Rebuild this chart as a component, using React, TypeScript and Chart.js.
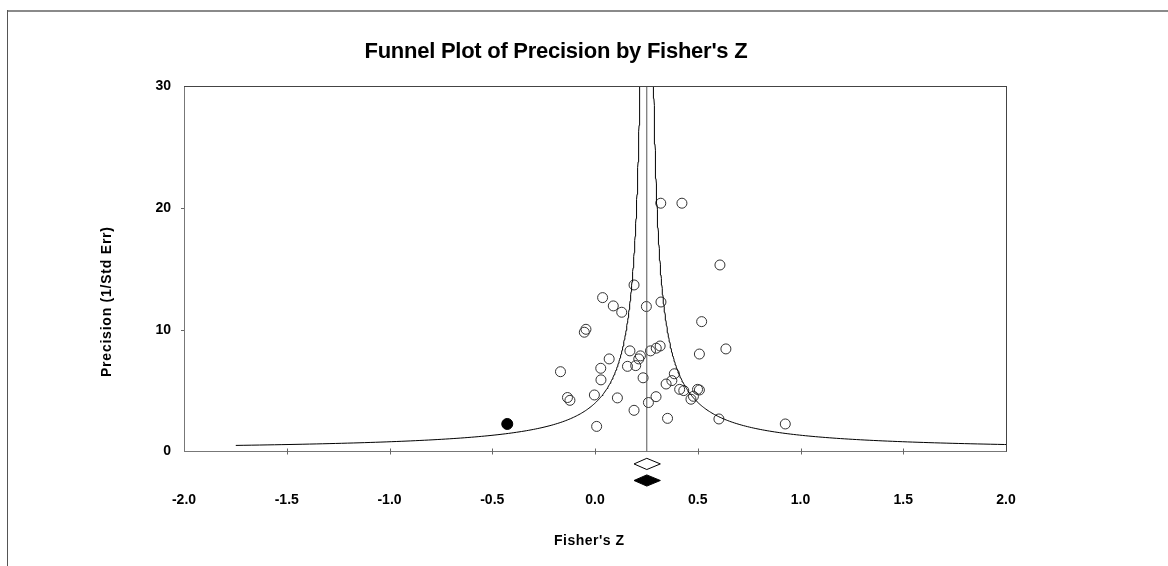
import React, { useEffect, useRef } from "react";
import { Chart, registerables } from "chart.js";

Chart.register(...registerables);

const titleText = "Funnel Plot of Precision by Fisher's Z";
const xAxisTitle = "Fisher's Z";
const yAxisTitle = "Precision (1/Std Err)";

const xMin = -2;
const xMax = 2;
const xStep = 0.5;
const yMin = 0;
const yMax = 30;
const yStep = 10;

// Observed studies (Fisher's Z, precision)
const studyZ = [
  0.19, 0.037, 0.089, 0.13, 0.25, 0.321, 0.519, -0.044, -0.052, 0.637,
  0.508, 0.17, 0.221, 0.27, 0.298, 0.317, 0.213, 0.069, 0.028, 0.158,
  0.198, -0.168, 0.029, 0.234, 0.386, 0.374, 0.346, 0.412, 0.432, 0.499,
  0.508, 0.479, 0.467, -0.134, -0.122, -0.003, 0.109, 0.297, 0.26, 0.19,
  0.353, 0.603, 0.926, 0.008, 0.32, 0.423, 0.608,
];
const studyPrecision = [
  13.67, 12.63, 11.95, 11.43, 11.9, 12.27, 10.66, 10.03, 9.79, 8.42,
  8.0, 8.26, 7.85, 8.26, 8.48, 8.66, 7.6, 7.6, 6.83, 6.99,
  7.05, 6.55, 5.88, 6.05, 6.38, 5.82, 5.54, 5.1, 5.0, 5.1,
  5.05, 4.53, 4.29, 4.43, 4.2, 4.64, 4.4, 4.5, 4.02, 3.38,
  2.72, 2.67, 2.26, 2.06, 20.38, 20.38, 15.31,
];

// Imputed study (filled)
const imputedZ = [-0.427];
const imputedPrecision = [2.26];

// Pooled estimate and funnel
const pooledZ = 0.252;
const funnelHalfWidthTimesPrecision = 1.0;
const funnelMinPrecision = 0.5;
const funnelMaxPrecision = 40;

// Summary diamonds: [lower, point, upper]; rows drawn below the axis
const diamondLower = [0.19, 0.19];
const diamondPoint = [0.252, 0.252];
const diamondUpper = [0.318, 0.318];
const diamondRow = [-1.02, -2.38];
const diamondHalfHeight = 0.46;
const diamondFilled = [false, true];

function funnelSide(sign: number) {
  const pts: { x: number; y: number }[] = [];
  let p = funnelMinPrecision;
  while (p <= funnelMaxPrecision) {
    pts.push({ x: pooledZ + (sign * funnelHalfWidthTimesPrecision) / p, y: p });
    p *= 1.02;
  }
  return pts;
}

function drawFitted(ctx: CanvasRenderingContext2D, text: string, x: number, y: number, target: number) {
  const anyCtx = ctx as any;
  anyCtx.letterSpacing = "0px";
  const w = ctx.measureText(text).width;
  const n = text.length;
  if ("letterSpacing" in anyCtx && n > 1) {
    const sp = (target - w) / (n - 1);
    anyCtx.letterSpacing = sp.toFixed(2) + "px";
    ctx.textAlign = "left";
    ctx.fillText(text, x - target / 2, y);
    anyCtx.letterSpacing = "0px";
  } else {
    ctx.save();
    ctx.translate(x, y);
    ctx.scale(target / w, 1);
    ctx.textAlign = "center";
    ctx.fillText(text, 0, 0);
    ctx.restore();
  }
}

const decorPlugin = {
  id: "decor",
  beforeDraw(chart: any) {
    const ctx = chart.ctx as CanvasRenderingContext2D;
    ctx.save();
    ctx.fillStyle = "#ffffff";
    ctx.fillRect(0, 0, chart.width, chart.height);
    ctx.restore();
  },
  afterDraw(chart: any) {
    const ctx = chart.ctx as CanvasRenderingContext2D;
    const area = chart.chartArea;
    const xs = chart.scales.x;
    const ys = chart.scales.y;
    ctx.save();
    // outer frame
    ctx.fillStyle = "#8a8a8a";
    ctx.fillRect(7, 10, chart.width - 7, 2);
    ctx.fillStyle = "#555555";
    ctx.fillRect(7, 10, 1, chart.height - 10);

    // top and right borders of plot
    ctx.strokeStyle = "#444444";
    ctx.lineWidth = 1;
    ctx.beginPath();
    ctx.moveTo(area.left, Math.round(area.top) + 0.5);
    ctx.lineTo(area.right, Math.round(area.top) + 0.5);
    ctx.moveTo(Math.round(area.right) + 0.5, area.top);
    ctx.lineTo(Math.round(area.right) + 0.5, area.bottom);
    ctx.stroke();

    // tick marks
    ctx.strokeStyle = "#666666";
    ctx.beginPath();
    for (let v = xMin + xStep; v < xMax - 1e-9; v += xStep) {
      const px = Math.round(xs.getPixelForValue(v)) + 0.5;
      ctx.moveTo(px, area.bottom - 3);
      ctx.lineTo(px, area.bottom + 3);
    }
    for (let v = yMin + yStep; v < yMax - 1e-9; v += yStep) {
      const py = Math.round(ys.getPixelForValue(v)) + 0.5;
      ctx.moveTo(area.left - 3, py);
      ctx.lineTo(area.left, py);
    }
    ctx.stroke();

    // summary diamonds (positioned through the chart scales)
    for (let i = 0; i < diamondPoint.length; i++) {
      const xl = xs.getPixelForValue(diamondLower[i]);
      const xc = xs.getPixelForValue(diamondPoint[i]);
      const xu = xs.getPixelForValue(diamondUpper[i]);
      const yc = ys.getPixelForValue(diamondRow[i]);
      const yt = ys.getPixelForValue(diamondRow[i] + diamondHalfHeight);
      const yb = ys.getPixelForValue(diamondRow[i] - diamondHalfHeight);
      ctx.beginPath();
      ctx.moveTo(xl, yc);
      ctx.lineTo(xc, yt);
      ctx.lineTo(xu, yc);
      ctx.lineTo(xc, yb);
      ctx.closePath();
      if (diamondFilled[i]) {
        ctx.fillStyle = "#000000";
        ctx.fill();
      }
      ctx.strokeStyle = "#000000";
      ctx.lineWidth = 1;
      ctx.stroke();
    }

    // texts
    ctx.fillStyle = "#000000";
    ctx.textBaseline = "middle";
    ctx.font = "bold 22px 'Liberation Sans', Arial, sans-serif";
    drawFitted(ctx, titleText, 556, 52, 383);

    ctx.font = "bold 14px 'Liberation Sans', Arial, sans-serif";
    drawFitted(ctx, xAxisTitle, 589, 541, 70);

    ctx.save();
    ctx.translate(107, 302);
    ctx.rotate(-Math.PI / 2);
    drawFitted(ctx, yAxisTitle, 0, 0, 150);
    ctx.restore();

    ctx.restore();
  },
};

export default function App() {
  const ref = useRef<HTMLCanvasElement | null>(null);

  useEffect(() => {
    document.body.style.margin = "0";
    const canvas = ref.current;
    if (!canvas) return;

    const studies = studyZ.map((z, i) => ({ x: z, y: studyPrecision[i] }));
    const imputed = imputedZ.map((z, i) => ({ x: z, y: imputedPrecision[i] }));

    const tickFont = { family: "'Liberation Sans', Arial, sans-serif", size: 14, weight: "bold" as const };

    const chart = new Chart(canvas, {
      type: "scatter",
      data: {
        datasets: [
          {
            type: "line",
            data: funnelSide(-1),
            borderColor: "#000000",
            borderWidth: 1,
            pointRadius: 0,
            fill: false,
            tension: 0,
            showLine: true,
          } as any,
          {
            type: "line",
            data: funnelSide(1),
            borderColor: "#000000",
            borderWidth: 1,
            pointRadius: 0,
            fill: false,
            tension: 0,
            showLine: true,
          } as any,
          {
            type: "line",
            data: [
              { x: pooledZ, y: yMin },
              { x: pooledZ, y: yMax },
            ],
            borderColor: "#555555",
            borderWidth: 1,
            pointRadius: 0,
            fill: false,
            showLine: true,
          } as any,
          {
            data: studies,
            pointStyle: "circle",
            pointRadius: 5,
            pointBorderColor: "#333333",
            pointBackgroundColor: "rgba(255,255,255,0)",
            pointBorderWidth: 1,
            showLine: false,
          } as any,
          {
            data: imputed,
            pointStyle: "circle",
            pointRadius: 5.5,
            pointBorderColor: "#000000",
            pointBackgroundColor: "#000000",
            pointBorderWidth: 1,
            showLine: false,
          } as any,
        ],
      },
      options: {
        animation: false,
        responsive: false,
        devicePixelRatio: 1,
        events: [],
        layout: { padding: { top: 86, right: 162, left: 0, bottom: 0 } },
        plugins: {
          legend: { display: false },
          tooltip: { enabled: false },
          title: { display: false },
        },
        scales: {
          x: {
            type: "linear",
            min: xMin,
            max: xMax,
            afterFit: (s: any) => {
              s.height = 114.5;
            },
            ticks: {
              stepSize: xStep,
              color: "#000000",
              font: tickFont,
              padding: 40,
              callback: (v: any) => Number(v).toFixed(1),
              maxRotation: 0,
              autoSkip: false,
            },
            grid: { display: false, drawTicks: false },
            border: { display: true, color: "#777777", width: 1 },
          },
          y: {
            type: "linear",
            min: yMin,
            max: yMax,
            afterFit: (s: any) => {
              s.width = 184;
            },
            ticks: {
              stepSize: yStep,
              color: "#000000",
              font: tickFont,
              padding: 13,
              callback: (v: any) => String(v),
            },
            grid: { display: false, drawTicks: false },
            border: { display: true, color: "#777777", width: 1 },
          },
        },
      },
      plugins: [decorPlugin],
    } as any);

    return () => {
      chart.destroy();
    };
  }, []);

  return (
    <div style={{ width: 1168, height: 566 }}>
      <canvas ref={ref} width={1168} height={566} style={{ display: "block", width: 1168, height: 566 }} />
    </div>
  );
}
